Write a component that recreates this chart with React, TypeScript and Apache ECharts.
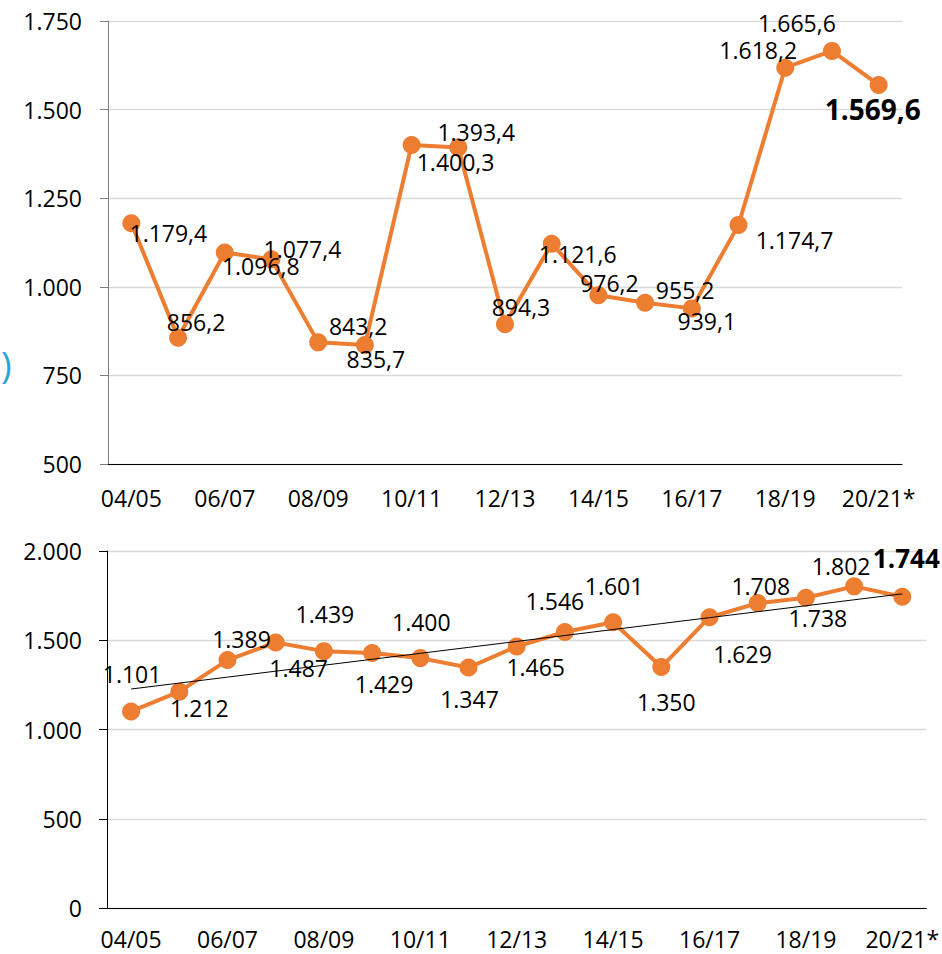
import React, { useEffect, useRef } from "react";
import * as echarts from "echarts";

const categories = ["04/05", "05/06", "06/07", "07/08", "08/09", "09/10", "10/11", "11/12", "12/13", "13/14", "14/15", "15/16", "16/17", "17/18", "18/19", "19/20", "20/21*"];
const topValues = [1179.4, 856.2, 1096.8, 1077.4, 843.2, 835.7, 1400.3, 1393.4, 894.3, 1121.6, 976.2, 955.2, 939.1, 1174.7, 1618.2, 1665.6, 1569.6];
const bottomValues = [1101, 1212, 1389, 1487, 1439, 1429, 1400, 1347, 1465, 1546, 1601, 1350, 1629, 1708, 1738, 1802, 1744];
const topAxisTicks = [500, 750, 1000, 1250, 1500, 1750];
const bottomAxisTicks = [0, 500, 1000, 1500, 2000];

// label offsets relative to the point centre (styling only)
const topLabelOffsets = [
  [37, 10], [18, -16], [36, 14], [31, -10], [40, -16], [11, 14], [44, 17], [18, -15],
  [16, -17], [26, 10], [11, -12], [40, -13], [15, 13], [56, 15], [-27, -18], [-35, -28], [-6, 24],
];
const bottomLabelOffsets = [
  [1, -37], [20, 16], [14, -21], [23, 25], [1, -37], [12, 31], [1, -36], [1, 31],
  [19, 21], [-10, -31], [1, -36], [5, 35], [33, 37], [3, -17], [12, 20], [-13, -20], [4, -39],
];

const FONT = "Open Sans";
const ORANGE = "#ED7D31";

function fmtThousands(n: number): string {
  return Math.round(n).toString().replace(/\B(?=(\d{3})+(?!\d))/g, ".");
}
function fmtTop(v: number): string {
  const [i, d] = v.toFixed(1).split(".");
  return fmtThousands(Number(i)) + "," + d;
}

function trend(values: number[]): number[] {
  const n = values.length;
  const mx = (n - 1) / 2;
  const my = values.reduce((a, b) => a + b, 0) / n;
  let sxy = 0;
  let sxx = 0;
  values.forEach((y, x) => {
    sxy += (x - mx) * (y - my);
    sxx += (x - mx) * (x - mx);
  });
  const slope = sxy / sxx;
  return values.map((_, x) => my + slope * (x - mx));
}

export default function App() {
  const ref = useRef<HTMLDivElement>(null);
  useEffect(() => {
    document.body.style.margin = "0";
    const chart = echarts.init(ref.current!, null, { renderer: "svg" });
    const last = categories.length - 1;
    const labelBase = {
      show: true,
      position: "inside",
      align: "center",
      verticalAlign: "middle",
      fontFamily: FONT,
      fontSize: 23,
      color: "#000",
    };
    const xAxisBase = (gridIndex: number, margin: number) => ({
      gridIndex,
      type: "category",
      data: categories,
      boundaryGap: true,
      axisLine: { lineStyle: { color: "#000", width: 1 } },
      axisTick: { interval: 0, length: 8, lineStyle: { color: "#000" } },
      axisLabel: { interval: 1, margin, fontFamily: FONT, fontSize: 23, color: "#000" },
    });
    const option = {
      animation: false,
      grid: [
        { left: 108, right: 40, top: 21, bottom: 490 },
        { left: 107, right: 10, top: 551, bottom: 46 },
      ],
      xAxis: [xAxisBase(0, 22), xAxisBase(1, 19)],
      yAxis: [
        {
          gridIndex: 0,
          type: "value",
          min: topAxisTicks[0],
          max: topAxisTicks[topAxisTicks.length - 1],
          interval: topAxisTicks[1] - topAxisTicks[0],
          axisLine: { show: true, lineStyle: { color: "#7f7f7f" } },
          axisTick: { show: true, length: 8, lineStyle: { color: "#7f7f7f" } },
          splitLine: { lineStyle: { color: "#d9d9d9", width: 1.3 } },
          axisLabel: { formatter: (v: number) => fmtThousands(v), margin: 26, fontFamily: FONT, fontSize: 23, color: "#000" },
        },
        {
          gridIndex: 1,
          type: "value",
          min: bottomAxisTicks[0],
          max: bottomAxisTicks[bottomAxisTicks.length - 1],
          interval: bottomAxisTicks[1] - bottomAxisTicks[0],
          axisLine: { show: true, lineStyle: { color: "#000" } },
          axisTick: { show: true, length: 8, lineStyle: { color: "#000" } },
          splitLine: { lineStyle: { color: "#d9d9d9", width: 1.3 } },
          axisLabel: { formatter: (v: number) => fmtThousands(v), margin: 25, fontFamily: FONT, fontSize: 23, color: "#000" },
        },
      ],
      series: [
        {
          type: "line",
          xAxisIndex: 0,
          yAxisIndex: 0,
          symbol: "circle",
          symbolSize: 18,
          itemStyle: { color: ORANGE },
          lineStyle: { color: ORANGE, width: 4 },
          emphasis: { disabled: true },
          data: topValues.map((v, i) => ({
            value: v,
            label: {
              ...labelBase,
              offset: topLabelOffsets[i],
              formatter: fmtTop(v),
              ...(i === last ? { fontWeight: "bold", fontSize: 28 } : {}),
            },
          })),
          z: 2,
        },
        {
          type: "line",
          xAxisIndex: 1,
          yAxisIndex: 1,
          symbol: "circle",
          symbolSize: 18,
          itemStyle: { color: ORANGE },
          lineStyle: { color: ORANGE, width: 4 },
          emphasis: { disabled: true },
          data: bottomValues.map((v, i) => ({
            value: v,
            label: {
              ...labelBase,
              offset: bottomLabelOffsets[i],
              formatter: fmtThousands(v),
              ...(i === last ? { fontWeight: "bold", fontSize: 26 } : {}),
            },
          })),
          z: 2,
        },
        {
          type: "line",
          xAxisIndex: 1,
          yAxisIndex: 1,
          symbol: "none",
          lineStyle: { color: "#000", width: 1 },
          emphasis: { disabled: true },
          silent: true,
          data: trend(bottomValues),
          z: 3,
        },
      ],
      graphic: [
        {
          type: "text",
          left: 1,
          top: 346,
          style: { text: ")", fontSize: 36, fontFamily: FONT, fill: "#26a4dd" },
        },
      ],
    };
    chart.setOption(option as any);
    return () => chart.dispose();
  }, []);
  return <div ref={ref} style={{ width: 942, height: 954 }} />;
}
